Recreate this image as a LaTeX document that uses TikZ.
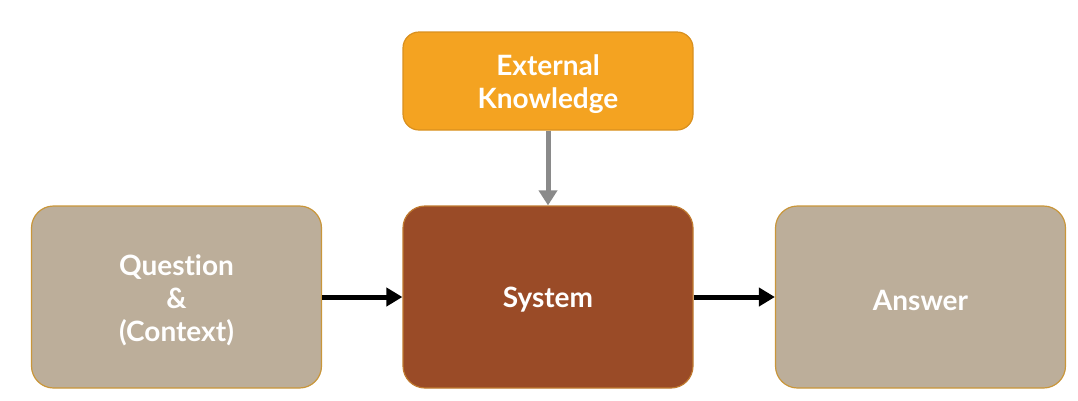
\documentclass[tikz,border=0pt]{standalone}
\usepackage{fontspec}
\setmainfont[Ligatures={NoCommon}]{Lato}
\usetikzlibrary{arrows.meta,positioning}
\definecolor{orangebox}{HTML}{F4A321}
\definecolor{orangeedge}{HTML}{D9901E}
\definecolor{tanbox}{HTML}{BCAE9A}
\definecolor{tanedge}{HTML}{C9963A}
\definecolor{sysbox}{HTML}{9A4B27}
\definecolor{sysedge}{HTML}{C07A30}
\definecolor{grayarrow}{HTML}{8A8A8A}
\tikzset{
  box/.style={rounded corners=22pt, line width=1.2pt, minimum width=290pt, minimum height=182pt,
    inner sep=0pt},
  txt/.style={align=center, text=white, inner sep=0pt, yshift=-3pt, font=\fontsize{28}{33}\selectfont\bfseries},
  tanstyle/.style={box, fill=tanbox, draw=tanedge},
  sysstyle/.style={box, fill=sysbox, draw=sysedge},
  extstyle/.style={box, fill=orangebox, draw=orangeedge, minimum height=98pt, rounded corners=16pt},
  blackarrow/.style={line width=5pt, -{Triangle[length=16pt,width=18pt]}},
  grayarr/.style={line width=5pt, draw=grayarrow, -{Triangle[length=15pt,width=18pt]}}
}
\begin{document}
\begin{tikzpicture}[x=1pt,y=-1pt]
\useasboundingbox (0,0) rectangle (1078,400);
\node[tanstyle] (q) at (176.5,297) {};
\node[sysstyle] (s) at (548,297) {};
\node[tanstyle] (a) at (920.5,297) {};
\node[extstyle] (k) at (548,81) {};
\node[txt] (qt) at (q.center) {Question\\\&\\(Context)};
\node[txt] (st) at (s.center) {System};
\node[txt] (at) at (a.center) {Answer};
\node[txt] (kt) at (k.center) {External\\Knowledge};
\draw[blackarrow] (q.east) -- (s.west);
\draw[blackarrow] (s.east) -- (a.west);
\draw[grayarr] (k.south) -- (s.north);
\end{tikzpicture}
\end{document}
